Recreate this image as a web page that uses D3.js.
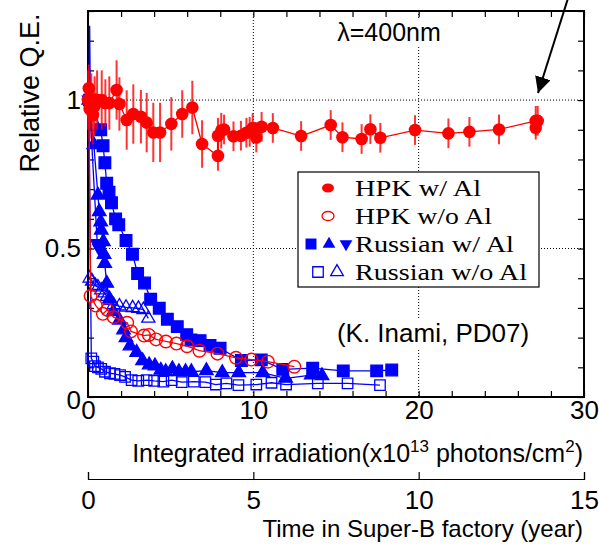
<!DOCTYPE html>
<html>
<head>
<meta charset="utf-8">
<script src="https://cdnjs.cloudflare.com/ajax/libs/d3/7.8.5/d3.min.js"></script>
<style>
body{margin:0;background:#fff;}
svg{display:block;}
.sans{font-family:"Liberation Sans Narrow","Liberation Sans",Arial,sans-serif;}
</style>
</head>
<body>
<svg id="chart" width="599" height="546"></svg>
<script>
// HPK w/ Al : [irradiation, rel. QE, error]
const hpkAl=[[0.0,1.0,0.1],[0.05,1.04,0.08],[0.1,0.97,0.1],[0.2,1.0,0.09],[0.3,0.95,0.1],[0.4,0.98,0.1],[0.55,1.0,0.1],[0.83,1.0,0.1],[1.05,0.99,0.08],[1.29,0.99,0.09],[1.73,1.034,0.1],[1.9,0.987,0.09],[2.34,0.933,0.1],[2.74,0.953,0.1],[3.2,0.944,0.09],[3.55,0.924,0.1],[3.95,0.891,0.1],[4.36,0.891,0.1],[5.04,0.92,0.09],[5.7,0.953,0.08],[6.31,0.975,0.09],[6.9,0.852,0.08],[7.86,0.812,0.05],[7.86,0.88,0.06],[8.06,0.897,0.06],[8.23,0.901,0.05],[8.8,0.878,0.05],[9.25,0.88,0.05],[9.58,0.89,0.05],[9.78,0.893,0.05],[9.96,0.906,0.05],[10.18,0.874,0.05],[10.5,0.91,0.05],[11.18,0.906,0.05],[12.89,0.879,0.05],[14.68,0.916,0.05],[15.39,0.875,0.05],[16.55,0.869,0.05],[17.08,0.902,0.05],[17.68,0.873,0.05],[19.78,0.899,0.05],[21.8,0.888,0.05],[23.07,0.893,0.05],[24.86,0.901,0.05],[27.08,0.93,0.05],[27.2,0.93,0.05],[27.08,0.907,0.04]];
// HPK w/o Al
const hpkNoAl=[[0.05,1.0],[0.16,0.34],[0.47,0.308],[0.9,0.28],[1.17,0.294],[1.55,0.269],[2.37,0.25],[2.6,0.221],[3.39,0.207],[3.68,0.209],[4.12,0.194],[4.71,0.187],[5.35,0.18],[5.99,0.171],[6.74,0.156],[7.83,0.146],[8.95,0.132],[9.88,0.126],[10.88,0.119],[12.48,0.102]];
// Russian w/ Al (squares, up triangles, down triangles)
const rusAlSq=[[0.12,1.0],[0.77,0.9],[0.91,0.846],[1.02,0.789],[1.13,0.72],[1.27,0.69],[1.42,0.654],[1.67,0.6],[1.86,0.58],[2.3,0.527],[2.69,0.481],[3.0,0.416],[3.42,0.384],[3.79,0.329],[4.31,0.299],[4.8,0.262],[5.4,0.237],[5.97,0.21],[6.23,0.192],[6.78,0.19],[7.38,0.174],[7.99,0.164],[9.28,0.123],[10.48,0.125],[11.78,0.093],[13.59,0.097],[15.44,0.088],[17.46,0.088],[18.37,0.091]];
const rusAlUp=[[0.05,1.0],[0.35,0.85],[0.6,0.68],[0.68,0.624],[0.77,0.59],[0.8,0.562],[0.93,0.523],[0.97,0.48],[1.01,0.45],[1.13,0.383],[1.3,0.33],[1.53,0.287],[1.9,0.259],[2.15,0.226],[2.3,0.2],[2.54,0.172],[2.94,0.15],[3.3,0.122],[3.7,0.108],[4.05,0.105],[4.4,0.09],[4.7,0.085],[5.1,0.095],[5.5,0.085],[5.9,0.085],[6.25,0.085],[7.16,0.089],[8.12,0.082],[9.12,0.082],[10.57,0.082],[11.95,0.063],[13.5,0.074],[14.15,0.072]];
const rusAlDown=[[0.08,1.0],[0.56,0.517],[0.7,0.5]];
// thin blue trace reaching 1.25 near the origin (no marker)
const rusSpike=[[0.04,0.95],[0.1,1.25],[0.16,0.9]];
// Russian w/o Al (open squares, open triangles)
const rusNoAlSq=[[0.05,1.0],[0.2,0.13],[0.32,0.119],[0.42,0.104],[0.6,0.1],[0.8,0.095],[1.03,0.085],[1.33,0.08],[1.6,0.078],[1.94,0.074],[2.24,0.068],[2.64,0.057],[3.04,0.054],[3.55,0.057],[4.0,0.054],[4.56,0.052],[5.06,0.057],[5.67,0.05],[6.4,0.052],[7.1,0.05],[7.73,0.042],[8.37,0.046],[9.1,0.04],[10.18,0.042],[11.1,0.048],[11.98,0.042],[13.9,0.046],[15.7,0.046],[17.66,0.04]];
const rusNoAlTri=[[0.1,0.4],[0.25,0.39],[0.45,0.375],[0.6,0.37],[0.8,0.36],[1.0,0.35],[1.15,0.338],[1.35,0.325],[1.55,0.31],[1.9,0.306],[2.3,0.302],[2.7,0.3],[3.05,0.298],[3.35,0.294],[3.65,0.265]];

const xTicks=[0,10,20,30];
const yTicks=[0,0.5,1];
const yearTicks=[0,5,10,15];
const legendLabels=["HPK w/ Al","HPK w/o Al","Russian w/ Al","Russian w/o Al"];

const svg=d3.select("#chart");
const L=88,R=584,T=11,B=397;
const x=d3.scaleLinear().domain([0,30]).range([L,R]);
const y=d3.scaleLinear().domain([0,1.3]).range([B,T]);
const x2=d3.scaleLinear().domain([0,15]).range([L,R]);
const RED="#ff0000",BLUE="#0000ff";

// grid
const grid=svg.append("g").attr("stroke","#000").attr("stroke-width",1).attr("stroke-dasharray","1,2");
[10,20].forEach(v=>grid.append("line").attr("x1",x(v)).attr("x2",x(v)).attr("y1",T).attr("y2",B));
[0.5,1].forEach(v=>grid.append("line").attr("x1",L).attr("x2",R).attr("y1",y(v)).attr("y2",y(v)));

// axes with inward ticks
const fmtX=d=>xTicks.includes(d)?d:"";
const fmtY=d=>yTicks.some(t=>Math.abs(t-d)<1e-6)?d3.format("")(+d.toFixed(1)):"";
const yAll=d3.range(0,1.31,0.1).map(v=>+v.toFixed(1));
const xAll=d3.range(0,31,2);

const gB=svg.append("g").attr("transform",`translate(0,${B})`)
  .call(d3.axisBottom(x).tickValues(xAll).tickSize(-6).tickSizeOuter(0).tickPadding(4).tickFormat(fmtX));
const gT=svg.append("g").attr("transform",`translate(0,${T})`)
  .call(d3.axisTop(x).tickValues(xAll).tickSize(-6).tickSizeOuter(0).tickFormat(""));
const gL=svg.append("g").attr("transform",`translate(${L},0)`)
  .call(d3.axisLeft(y).tickValues(yAll).tickSize(-6).tickSizeOuter(0).tickPadding(7).tickFormat(fmtY));
const gR=svg.append("g").attr("transform",`translate(${R},0)`)
  .call(d3.axisRight(y).tickValues(yAll).tickSize(-6).tickSizeOuter(0).tickFormat(""));
[gB,gT,gL,gR].forEach(g=>{
  g.select(".domain").remove();
  g.selectAll("line").attr("stroke","#000").attr("stroke-width",1.2);
  g.selectAll("text").attr("class","sans").attr("font-size",26).attr("fill","#000");
});
gL.selectAll(".tick").filter(d=>d===0).select("text").attr("dy","0.45em");

// frame
svg.append("rect").attr("x",L).attr("y",T).attr("width",R-L).attr("height",B-T)
  .attr("fill","none").attr("stroke","#000").attr("stroke-width",2);

// secondary axis (years)
const gY=svg.append("g").attr("transform","translate(0,479)")
  .call(d3.axisBottom(x2).tickValues(yearTicks).tickSize(-7).tickSizeOuter(-7).tickPadding(12));
gY.select(".domain").attr("stroke","#000").attr("stroke-width",1.2);
gY.selectAll("line").attr("stroke","#000").attr("stroke-width",1.2);
gY.selectAll("text").attr("class","sans").attr("font-size",26).attr("fill","#000");

// titles
svg.append("text").attr("class","sans").attr("font-size",27)
  .attr("transform","translate(39,93) rotate(-90)").attr("text-anchor","middle").text("Relative Q.E.");
const xt=svg.append("text").attr("class","sans").attr("font-size",25)
  .attr("x",583).attr("y",462).attr("text-anchor","end");
xt.append("tspan").text("Integrated irradiation(x10");
xt.append("tspan").attr("font-size",17).attr("dy",-10).text("13");
xt.append("tspan").attr("dy",10).text(" photons/cm");
xt.append("tspan").attr("font-size",17).attr("dy",-10).text("2");
xt.append("tspan").attr("dy",10).text(")");
svg.append("text").attr("class","sans").attr("font-size",24)
  .attr("x",583).attr("y",537).attr("text-anchor","end").text("Time in Super-B factory (year)");

// annotations with white backing
function label(txt,cx,cy,size){
  const t=svg.append("text").attr("x",cx).attr("y",cy).attr("text-anchor","middle")
    .attr("dominant-baseline","central").attr("font-family","'Liberation Sans',Arial,sans-serif")
    .attr("font-size",size).text(txt);
  const bb=t.node().getBBox();
  svg.insert("rect",()=>t.node()).attr("x",bb.x-2).attr("y",bb.y).attr("width",bb.width+4).attr("height",bb.height).attr("fill","#fff");
}
label("λ=400nm",389,32,25);
label("(K. Inami, PD07)",433,333,26);

// data
const line=d3.line().x(d=>x(d[0])).y(d=>y(d[1]));
const data=svg.append("g");
function path(arr,color,w){
  data.append("path").datum(arr).attr("d",line).attr("fill","none").attr("stroke",color).attr("stroke-width",w);
}
const sym=(type,size)=>d3.symbol().type(type).size(size);
const downTri={draw(ctx,size){const h=Math.sqrt(size*4/Math.sqrt(3))/2;const k=h*Math.sqrt(3)/3;ctx.moveTo(-h,-k);ctx.lineTo(h,-k);ctx.lineTo(0,2*k);ctx.closePath();}};
function marks(arr,type,size,fill,stroke){
  data.selectAll(null).data(arr).enter().append("path")
    .attr("transform",d=>`translate(${x(d[0])},${y(d[1])})`)
    .attr("d",sym(type,size)).attr("fill",fill).attr("stroke",stroke).attr("stroke-width",1.3);
}

path(rusSpike,BLUE,1.3);
path(rusNoAlSq,BLUE,1.3);
marks(rusNoAlSq,d3.symbolSquare,110,"none",BLUE);
path(rusNoAlTri,BLUE,1.3);
marks(rusNoAlTri,d3.symbolTriangle,75,"none",BLUE);
path(rusAlUp,BLUE,1.3);
marks(rusAlUp,d3.symbolTriangle,80,BLUE,BLUE);
path(rusAlDown,BLUE,1.3);
marks(rusAlDown,downTri,80,BLUE,BLUE);
path(rusAlSq,BLUE,1.3);
marks(rusAlSq,d3.symbolSquare,135,BLUE,BLUE);

path(hpkNoAl,RED,1.3);
data.selectAll(null).data(hpkNoAl).enter().append("circle")
  .attr("cx",d=>x(d[0])).attr("cy",d=>y(d[1])).attr("r",6.3)
  .attr("fill","none").attr("stroke",RED).attr("stroke-width",1.4);

data.selectAll(null).data(hpkAl).enter().append("line")
  .attr("x1",d=>x(d[0])).attr("x2",d=>x(d[0]))
  .attr("y1",d=>y(d[1]-d[2])).attr("y2",d=>y(d[1]+d[2]))
  .attr("stroke",RED).attr("stroke-opacity",0.8).attr("stroke-width",2);
path(hpkAl,RED,1.3);
data.selectAll(null).data(hpkAl).enter().append("circle")
  .attr("cx",d=>x(d[0])).attr("cy",d=>y(d[1])).attr("r",6.3).attr("fill",RED);

// legend
const lg=svg.append("g");
lg.append("rect").attr("x",298).attr("y",172).attr("width",241).attr("height",115)
  .attr("fill","#fff").attr("stroke","#000").attr("stroke-width",1.2);
const rows=[188,216,244,272];
const legendWidths=[126,137,159,172];
lg.selectAll("text").data(legendLabels).enter().append("text")
  .attr("x",355).attr("y",(d,i)=>rows[i]).attr("dominant-baseline","central")
  .attr("font-family","'Liberation Serif','Times New Roman',serif").attr("font-size",24)
  .attr("textLength",(d,i)=>legendWidths[i]).attr("lengthAdjust","spacingAndGlyphs").text(d=>d);
lg.append("ellipse").attr("cx",328).attr("cy",rows[0]).attr("rx",6).attr("ry",4.5).attr("fill",RED);
lg.append("ellipse").attr("cx",328).attr("cy",rows[1]).attr("rx",6).attr("ry",4.5).attr("fill","none").attr("stroke",RED).attr("stroke-width",1.3);
lg.append("path").attr("transform",`translate(311,${rows[2]})`).attr("d",sym(d3.symbolSquare,120)()).attr("fill",BLUE);
lg.append("path").attr("transform",`translate(329,${rows[2]})`).attr("d",sym(d3.symbolTriangle,70)()).attr("fill",BLUE);
lg.append("path").attr("transform",`translate(346,${rows[2]})`).attr("d",sym(downTri,70)()).attr("fill",BLUE);
lg.append("path").attr("transform",`translate(318,${rows[3]})`).attr("d",sym(d3.symbolSquare,110)()).attr("fill","none").attr("stroke",BLUE).attr("stroke-width",1.3);
lg.append("path").attr("transform",`translate(337,${rows[3]})`).attr("d",sym(d3.symbolTriangle,70)()).attr("fill","none").attr("stroke",BLUE).attr("stroke-width",1.3);

// arrow
const defs=svg.append("defs");
defs.append("marker").attr("id","ah").attr("viewBox","0 0 10 10").attr("refX",10).attr("refY",5)
  .attr("markerWidth",8).attr("markerHeight",8).attr("markerUnits","strokeWidth").attr("orient","auto")
  .append("path").attr("d","M0,0L10,5L0,10Z").attr("fill","#000");
svg.append("line").attr("x1",570).attr("y1",-8).attr("x2",538).attr("y2",93)
  .attr("stroke","#000").attr("stroke-width",2).attr("marker-end","url(#ah)");
</script>
</body>
</html>
